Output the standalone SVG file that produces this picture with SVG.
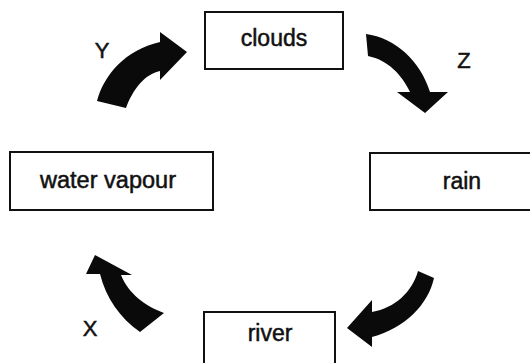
<svg xmlns="http://www.w3.org/2000/svg" width="530" height="363" viewBox="0 0 530 363">
<style>
.box{fill:#fff;stroke:#111;stroke-width:2}
.lbl{font-family:"Liberation Sans",Arial,sans-serif;font-size:23px;fill:#111;stroke:#111;stroke-width:0.5;text-anchor:middle}
.let{font-family:"Liberation Sans",Arial,sans-serif;font-size:22px;fill:#111;stroke:#111;stroke-width:0.5;text-anchor:middle}
.arrow{fill:#0a0a0a;stroke:none}
</style>
<rect width="530" height="363" fill="#fff"/>
<g id="clouds"><rect class="box" x="205" y="12" width="138" height="57"/><text class="lbl" x="274" y="46">clouds</text></g>
<g id="rain"><rect class="box" x="370" y="153" width="170" height="57"/><text class="lbl" x="462" y="189">rain</text></g>
<g id="water-vapour"><rect class="box" x="10" y="152" width="203" height="58"/><text class="lbl" x="108" y="188" textLength="136" lengthAdjust="spacingAndGlyphs">water vapour</text></g>
<g id="river"><rect class="box" x="204" y="312" width="131" height="60"/><text class="lbl" x="270" y="341">river</text></g>
<g id="connectors">
<path class="arrow" d="M97,101 C104,75 125,50 160,42 L160,32 L187,52 L160,80 L160,71 C145,74 133,89 126,108 Z"/>
<path class="arrow" d="M366,34 C395,38 420,60 430,92 L448,92 L425,113 L397,92 L410,92 C402,75 388,60 368,56 Z"/>
<path class="arrow" d="M418,271 C412,292 395,308 372,312 L372,300 L347,328 L372,347 L372,337 C405,328 428,305 434,278 Z"/>
<path class="arrow" d="M140,332 C120,318 106,298 100,274 L86,274 L95,255 L132,275 L121,275 C128,293 145,306 164,313 Z"/>
<text class="let" x="102" y="58">Y</text>
<text class="let" x="464" y="68">Z</text>
<text class="let" x="90" y="336">X</text>
</g>
</svg>
